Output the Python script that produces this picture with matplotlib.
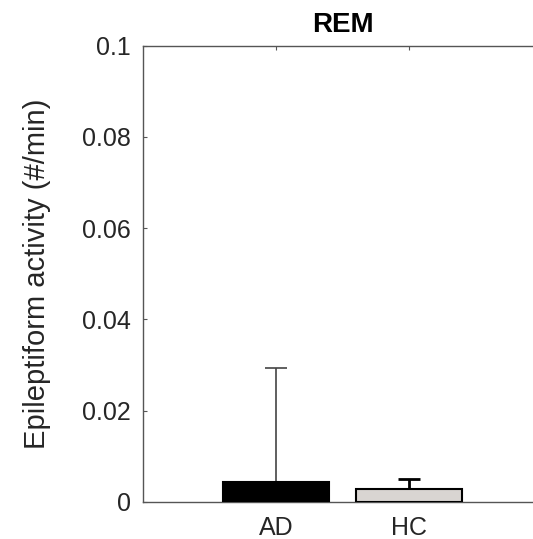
import matplotlib
matplotlib.use("Agg")
import matplotlib.pyplot as plt

categories = ["AD", "HC"]
means = [0.00425, 0.0028]
err = [0.0250, 0.0022]
colors = ["#000000", "#d9d5d2"]
yticks = [0, 0.02, 0.04, 0.06, 0.08, 0.1]
ytick_labels = ["0", "0.02", "0.04", "0.06", "0.08", "0.1"]

plt.rcParams['font.family'] = ['Liberation Sans', 'DejaVu Sans']

fig = plt.figure(figsize=(5.33, 5.39), dpi=100)
ax = fig.add_axes([143/533, 37.3/539, 399/533, 456/539])
x = [1, 2]
ax.bar(x, means, width=0.8, color=colors, edgecolor="black", linewidth=1.5, zorder=3)
err_colors = ["#444444", "#000000"]
err_lw = [1.2, 2.0]
for xi, m, e, c, lw in zip(x, means, err, err_colors, err_lw):
    ax.errorbar([xi], [m], yerr=[e], fmt="none", ecolor=c, elinewidth=lw,
                capsize=8, capthick=lw, zorder=2)

ax.set_xlim(0, 3)
ax.set_ylim(0, 0.1)
ax.set_xticks(x)
ax.set_xticklabels(categories)
ax.set_yticks(yticks)
ax.set_yticklabels(ytick_labels)
ax.tick_params(axis="both", direction="in", length=3, width=0.8, color="#555555",
               labelsize=18, labelcolor="#262626", pad=9)
ax.tick_params(axis="x", top=True, pad=10)
for s in ax.spines.values():
    s.set_color("#555555")
    s.set_linewidth(1.0)
ax.set_ylabel("Epileptiform activity (#/min)", fontsize=21, color="#262626", labelpad=22)
ax.set_title("REM", fontsize=20, fontweight="bold", pad=10)
fig.savefig("out.png", dpi=100)
